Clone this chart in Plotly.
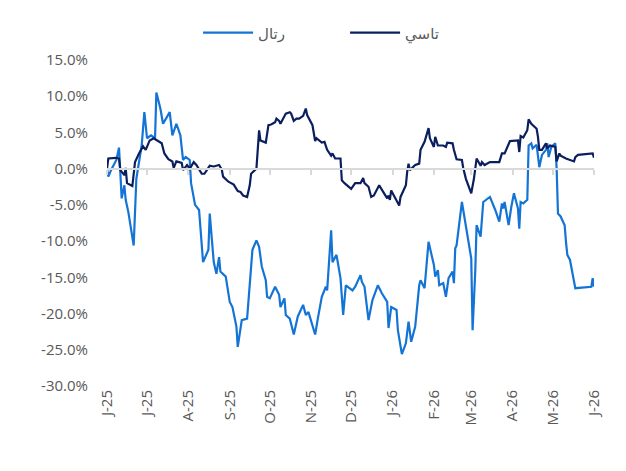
import plotly.graph_objects as go

# ---- Data (cumulative return, %) ----
retal_dates = [
    "2025-06-01","2025-06-02","2025-06-04","2025-06-08","2025-06-10","2025-06-11","2025-06-12","2025-06-14",
    "2025-06-15","2025-06-17","2025-06-21","2025-06-23","2025-06-25","2025-06-27","2025-06-29","2025-07-01",
    "2025-07-04","2025-07-07","2025-07-08","2025-07-11","2025-07-13","2025-07-15","2025-07-18","2025-07-20",
    "2025-07-23","2025-07-26","2025-07-28","2025-07-30","2025-08-02","2025-08-03","2025-08-06","2025-08-09",
    "2025-08-12","2025-08-16","2025-08-17","2025-08-20","2025-08-22","2025-08-24","2025-08-25","2025-08-29",
    "2025-09-01","2025-09-03","2025-09-06","2025-09-07","2025-09-10","2025-09-14","2025-09-16","2025-09-18",
    "2025-09-21","2025-09-23","2025-09-25","2025-09-28","2025-09-29","2025-10-01","2025-10-05","2025-10-08",
    "2025-10-09","2025-10-12","2025-10-13","2025-10-16","2025-10-19","2025-10-22","2025-10-26","2025-10-28",
    "2025-10-30","2025-11-04","2025-11-06","2025-11-09","2025-11-12","2025-11-13","2025-11-16","2025-11-17",
    "2025-11-20","2025-11-23","2025-11-25","2025-11-27","2025-12-02","2025-12-04","2025-12-08","2025-12-09",
    "2025-12-11","2025-12-14","2025-12-17","2025-12-21","2025-12-24","2025-12-28","2025-12-29","2025-12-31",
    "2026-01-04","2026-01-05","2026-01-08","2026-01-11","2026-01-13","2026-01-15","2026-01-18","2026-01-21",
    "2026-01-22","2026-01-25","2026-01-28","2026-02-01","2026-02-02","2026-02-04","2026-02-05","2026-02-08",
    "2026-02-10","2026-02-12","2026-02-15","2026-02-16","2026-02-17","2026-02-18","2026-02-22","2026-02-25",
    "2026-03-01","2026-03-02","2026-03-04","2026-03-05","2026-03-08","2026-03-10","2026-03-15","2026-03-19",
    "2026-03-22","2026-03-24","2026-03-25","2026-03-26","2026-03-29","2026-03-31","2026-04-02","2026-04-05",
    "2026-04-06","2026-04-07","2026-04-09","2026-04-12","2026-04-13","2026-04-15","2026-04-16","2026-04-19",
    "2026-04-21","2026-04-23","2026-04-26","2026-04-27","2026-04-28","2026-04-30","2026-05-03","2026-05-04",
    "2026-05-05","2026-05-07","2026-05-10","2026-05-11","2026-05-12","2026-05-14","2026-05-18","2026-05-30",
    "2026-05-31","2026-06-01",
]
retal_values = [
    0.0, -1.1, -0.2, 1.2, 2.9, -1.8, -4.1, -2.3,
    -4.3, -6.0, -10.6, -1.4, 0.9, 3.2, 7.8, 4.2,
    4.6, 4.2, 10.5, 8.3, 6.2, 6.9, 7.8, 4.6,
    6.2, 4.6, 1.2, 1.6, 1.2, -2.0, -5.0, -5.7,
    -12.9, -11.2, -6.2, -12.9, -14.5, -12.2, -14.2, -14.9,
    -18.4, -19.1, -21.8, -24.6, -20.9, -20.7, -16.3, -11.2,
    -9.9, -10.8, -13.5, -15.4, -17.7, -17.9, -16.3, -17.4,
    -19.1, -17.9, -20.2, -20.7, -22.9, -20.4, -18.8, -20.2,
    -19.8, -22.9, -20.7, -17.7, -16.3, -16.8, -8.5, -12.9,
    -11.9, -15.1, -20.2, -16.1, -16.8, -16.3, -14.7, -15.6,
    -16.3, -20.9, -18.1, -16.1, -17.2, -18.4, -22.0, -19.1,
    -19.5, -22.3, -25.6, -24.1, -21.1, -23.9, -21.8, -16.1,
    -15.4, -16.5, -10.1, -13.3, -14.9, -14.0, -16.1, -15.8,
    -17.7, -15.1, -14.2, -15.8, -11.0, -10.6, -4.6, -7.8,
    -12.4, -22.3, -14.2, -7.8, -9.4, -4.6, -3.9, -5.7,
    -7.3, -4.8, -5.5, -4.6, -7.8, -5.3, -3.4, -5.5,
    -8.3, -4.6, -4.8, -4.3, 3.2, 3.5, 2.8, 3.3,
    0.2, 1.9, 2.6, 3.5, 1.6, 3.0, 3.5, 0.0,
    -6.2, -6.6, -7.8, -10.1, -11.9, -12.6, -16.5, -16.3,
    -15.1, -16.3,
]

tasi_dates = [
    "2025-06-01","2025-06-02","2025-06-08","2025-06-10","2025-06-11","2025-06-14","2025-06-15","2025-06-16",
    "2025-06-20","2025-06-22","2025-06-25","2025-06-28","2025-06-30","2025-07-03","2025-07-06","2025-07-09",
    "2025-07-12","2025-07-14","2025-07-17","2025-07-20","2025-07-21","2025-07-23","2025-07-27","2025-07-28",
    "2025-07-31","2025-08-02","2025-08-05","2025-08-07","2025-08-11","2025-08-13","2025-08-17","2025-08-20",
    "2025-08-24","2025-08-26","2025-08-27","2025-08-31","2025-09-02","2025-09-04","2025-09-07","2025-09-09",
    "2025-09-11","2025-09-14","2025-09-16","2025-09-17","2025-09-21","2025-09-23","2025-09-24","2025-09-28",
    "2025-09-30","2025-10-02","2025-10-05","2025-10-06","2025-10-08","2025-10-09","2025-10-13","2025-10-16",
    "2025-10-17","2025-10-19","2025-10-21","2025-10-23","2025-10-26","2025-10-28","2025-10-29","2025-11-02",
    "2025-11-04","2025-11-05","2025-11-09","2025-11-11","2025-11-13","2025-11-16","2025-11-17","2025-11-19",
    "2025-11-23","2025-11-24","2025-11-26","2025-11-30","2025-12-01","2025-12-04","2025-12-08","2025-12-10",
    "2025-12-11","2025-12-14","2025-12-16","2025-12-18","2025-12-22","2025-12-25","2025-12-28","2025-12-29",
    "2025-12-30","2025-12-31","2026-01-04","2026-01-06","2026-01-07","2026-01-11","2026-01-12","2026-01-13",
    "2026-01-14","2026-01-18","2026-01-21","2026-01-22","2026-01-25","2026-01-28","2026-01-29","2026-02-01",
    "2026-02-02","2026-02-04","2026-02-08","2026-02-10","2026-02-11","2026-02-15","2026-02-16","2026-02-18",
    "2026-02-22","2026-02-23","2026-02-25","2026-03-01","2026-03-03","2026-03-05","2026-03-08","2026-03-09",
    "2026-03-11","2026-03-15","2026-03-22","2026-03-24","2026-03-26","2026-03-30","2026-04-05","2026-04-06",
    "2026-04-07","2026-04-09","2026-04-12","2026-04-13","2026-04-15","2026-04-19","2026-04-20","2026-04-21",
    "2026-04-23","2026-04-26","2026-04-27","2026-04-29","2026-05-03","2026-05-04","2026-05-06","2026-05-07",
    "2026-05-11","2026-05-14","2026-05-17","2026-05-18","2026-05-20","2026-05-31","2026-06-01",
]
tasi_values = [
    0.0, 1.4, 1.5, 1.4, -0.2, -0.9, 0.1, -2.0,
    -2.4, 0.9, 2.1, 3.1, 2.6, 3.9, 4.2, 3.9,
    3.5, 2.1, 1.3, 1.0, 0.1, 1.0, 0.8, -0.2,
    0.5, 0.0, 0.9, 0.5, -0.7, -0.7, 0.4, 0.3,
    0.5, -0.1, -1.1, -1.8, -2.0, -2.2, -3.1, -3.2,
    -3.7, -3.9, -2.3, -0.7, 0.0, 5.3, 3.9, 3.6,
    6.0, 6.1, 6.4, 6.9, 6.6, 6.2, 7.6, 7.8,
    7.6, 6.6, 6.9, 6.9, 7.3, 8.3, 7.4, 6.0,
    3.8, 4.2, 3.6, 3.7, 2.6, 1.8, 2.1, 1.4,
    1.4, -1.6, -2.0, -2.6, -2.8, -2.0, -2.0, -1.3,
    -2.0, -2.5, -3.9, -3.7, -2.3, -3.2, -4.1, -3.7,
    -4.3, -3.0, -4.3, -5.1, -3.9, -2.3, -0.4, 0.7,
    -0.2, 0.5, 0.7, 2.6, 3.7, 5.6, 4.2, 3.0,
    4.4, 3.2, 3.2, 3.0, 3.6, 3.5, 2.6, 1.3,
    1.2, 0.1, -1.4, -3.4, -1.4, 1.4, 0.4, 0.9,
    0.5, 0.9, 0.9, 2.1, 2.1, 3.8, 3.9, 2.3,
    4.5, 4.3, 5.3, 6.8, 6.2, 5.5, 4.4, 2.6,
    2.6, 3.5, 2.8, 3.2, 3.0, 1.0, 2.1, 1.8,
    1.4, 1.2, 1.0, 1.6, 1.9, 2.1, 1.5,
]

tick_dates = ["2025-06-01","2025-07-01","2025-08-01","2025-09-01","2025-10-01","2025-11-01",
              "2025-12-01","2026-01-01","2026-02-01","2026-03-01","2026-04-01","2026-05-01","2026-06-01"]
tick_labels = ["J-25","J-25","A-25","S-25","O-25","N-25","D-25","J-26","F-26","M-26","A-26","M-26","J-26"]
y_ticks = [15, 10, 5, 0, -5, -10, -15, -20, -25, -30]
y_tick_labels = ["15.0%", "10.0%", "5.0%", "0.0%", "-5.0%", "-10.0%", "-15.0%", "-20.0%", "-25.0%", "-30.0%"]

name_retal = "رتال"
name_tasi = "تاسي"

FONT = "'Open Sans', 'DejaVu Sans', sans-serif"

fig = go.Figure()
fig.add_trace(go.Scatter(x=retal_dates, y=retal_values, mode="lines", name=name_retal,
                         line=dict(color="#1474D6", width=2.2)))
fig.add_trace(go.Scatter(x=tasi_dates, y=tasi_values, mode="lines", name=name_tasi,
                         line=dict(color="#0B1F5E", width=2.2)))
# invisible helper to host the tick-mark axis on the zero line
fig.add_trace(go.Scatter(x=[tick_dates[0]], y=[0], xaxis="x2", mode="markers",
                         marker=dict(opacity=0), showlegend=False, hoverinfo="skip"))

xrange = ["2025-06-01", "2026-06-01"]
fig.update_layout(
    width=610, height=455,
    margin=dict(l=99, r=24, t=52, b=77, autoexpand=False),
    paper_bgcolor="white", plot_bgcolor="white",
    font=dict(family=FONT, color="#595959", size=15),
    showlegend=True,
    legend=dict(orientation="h", x=0.187, xanchor="left", y=1.083, yanchor="middle",
                font=dict(family="'DejaVu Sans', sans-serif", size=15, color="#595959"),
                traceorder="normal", entrywidth=82, itemwidth=50),
    xaxis=dict(type="date", range=xrange, tickvals=tick_dates, ticktext=tick_labels,
               tickangle=-90, showgrid=False, zeroline=False, showline=False, ticks="",
               tickfont=dict(size=15, color="#595959")),
    xaxis2=dict(type="date", range=xrange, overlaying="x", anchor="free", position=30/45,
                tickvals=tick_dates, showticklabels=False, ticks="outside", ticklen=5,
                tickcolor="#D9D9D9", tickwidth=2, showline=True, linecolor="#D9D9D9",
                linewidth=2, showgrid=False, zeroline=False),
    yaxis=dict(range=[-30, 15], tickvals=y_ticks, ticktext=y_tick_labels,
               showgrid=False, zeroline=False, showline=False, ticks="",
               ticklabelstandoff=18, tickfont=dict(size=15, color="#595959")),
)
fig.write_html("out.html")
